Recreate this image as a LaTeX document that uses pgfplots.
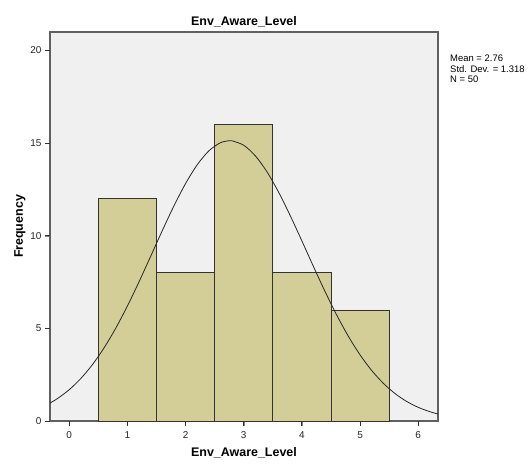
\documentclass[border=0pt]{standalone}
\usepackage{fontspec}
\setmainfont{Liberation Sans}
\usepackage{pgfplots}
\pgfplotsset{compat=1.18}
\definecolor{bg}{HTML}{F0F0F0}
\definecolor{barfill}{HTML}{D3CE98}
\definecolor{frame}{HTML}{606060}
\begin{document}
\begin{tikzpicture}
\begin{axis}[
  at={(0,0)}, anchor=south west,
  scale only axis, width=388bp, height=389bp,
  xmin=-0.33, xmax=6.34, ymin=0, ymax=21,
  xtick={0,1,2,3,4,5,6}, ytick={0,5,10,15,20},
  tick align=outside, xtick pos=bottom, ytick pos=left,
  major tick length=5bp,
  axis line style={draw=frame, line width=1.2pt},
  axis background/.style={fill=bg},
  ticklabel style={font=\fontsize{10}{12}\selectfont, text=black!85},
  xticklabel style={yshift=-2bp},
  /pgf/number format/assume math mode=true,
  xlabel={\bfseries Env\_Aware\_Level},
  ylabel={\bfseries Frequency},
  xlabel style={font=\fontsize{12.5}{14}\selectfont, yshift=-2bp},
  ylabel style={font=\fontsize{12.5}{14}\selectfont, yshift=-2bp},
  title={\bfseries Env\_Aware\_Level},
  title style={font=\fontsize{12.5}{14}\selectfont, yshift=-5bp},
  clip=false,
]
\addplot[ybar interval, fill=barfill, draw=black!80, line width=0.7pt] coordinates {
(0.5,12) (1.5,8) (2.5,16) (3.5,8) (4.5,6) (5.5,6)};
\addplot[black!85, line width=0.8pt, smooth] coordinates {
(-0.33,0.969) (-0.2,1.215) (0,1.689) (0.2,2.295) (0.4,3.046) (0.6,3.951) (0.8,5.009)
(1.0,6.205) (1.2,7.512) (1.4,8.887) (1.6,10.274) (1.8,11.608) (2.0,12.816)
(2.2,13.828) (2.4,14.580) (2.6,15.023) (2.76,15.134) (2.8,15.127) (3.0,14.885)
(3.2,14.314) (3.4,13.451) (3.6,12.352) (3.8,11.085) (4.0,9.722) (4.2,8.332)
(4.4,6.978) (4.6,5.711) (4.8,4.568) (5.0,3.571) (5.2,2.727) (5.4,2.036)
(5.6,1.485) (5.8,1.058) (6.0,0.737) (6.2,0.502) (6.34,0.378)};
\pgfplotsinvokeforeach{0,1,2,3,4,5,6}{
  \draw[black!80, line width=1pt] (axis cs:#1,0) -- ([yshift=-5bp]axis cs:#1,0);
}
\pgfplotsinvokeforeach{0,5,10,15,20}{
  \draw[black!80, line width=1pt] (axis cs:-0.33,#1) -- ([xshift=-5bp]axis cs:-0.33,#1);
}
\end{axis}
\node[anchor=north west, align=left, font=\fontsize{9.5}{10.5}\selectfont, inner sep=0pt]
  at (400bp,366bp) {Mean = 2.76\\Std. Dev. = 1.318\\N = 50};
\path (-50bp,-45bp) rectangle (480bp,421bp);
\end{tikzpicture}
\end{document}
